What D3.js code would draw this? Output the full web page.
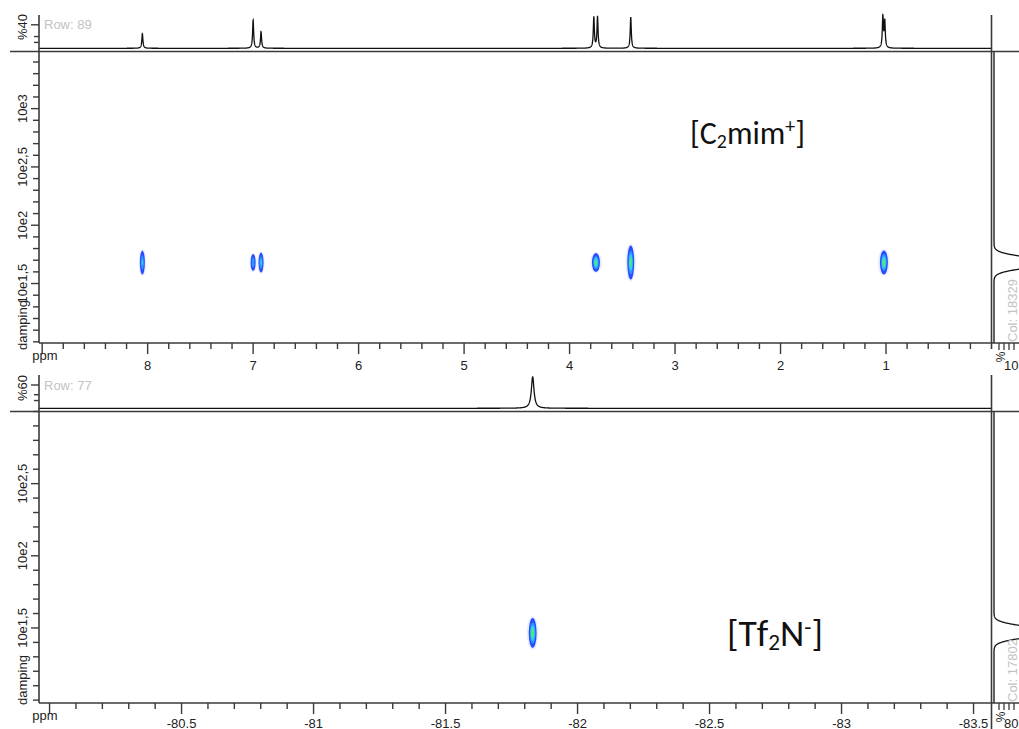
<!DOCTYPE html>
<html><head><meta charset="utf-8">
<script src="https://cdn.jsdelivr.net/npm/d3@7"></script>
<style>
body{margin:0;background:#fff;}
svg{display:block;font-family:"Liberation Sans",Arial,sans-serif;}
</style>
</head><body>
<svg id="c" width="1019" height="729"></svg>
<script>
// ================= DATA =================
// --- top panel : [C2mim+] (1H DOSY) ---
const topRowLabel = "Row: 89";
const topColLabel = "Col: 18329";
const topSpecAxisLabel = "%40";
const topProjAxisLabel = "10";
const topXMajorTicks = [9, 8, 7, 6, 5, 4, 3, 2, 1];
const topXTickLabels = ["", "8", "7", "6", "5", "4", "3", "2", "1"];
const topYMajorTicks = [3, 2.5, 2, 1.5];
const topYTickLabels = ["10e3", "10e2,5", "10e2", "10e1,5"];
const topSpecTicks = [40, 20, 10];
// 1D row spectrum (ppm, height %)
const topPeakPpm    = [8.05, 7.00, 6.925, 3.77, 3.735, 3.42, 1.03, 1.012];
const topPeakHeight = [25,   48,   28,    53,   53,    53,   53,   45];
// DOSY cross peaks
const topSpotPpm        = [8.05, 7.00, 6.925, 3.75, 3.42, 1.02];
const topSpotLogD       = [1.68, 1.68, 1.68,  1.68, 1.68, 1.68];
const topSpotSpreadPpm  = [0.024, 0.024, 0.024, 0.038, 0.033, 0.038];
const topSpotSpreadLogD = [0.103, 0.073, 0.086, 0.081, 0.146, 0.103];
const topSpotIntensity  = [0.55, 0.5, 0.6, 0.85, 0.85, 0.9];
// column projection (logD, height %, width)
const topProjLogD   = [1.68];
const topProjHeight = [300];
const topProjSigma  = [0.043];
const topIonLabel = ["[C", "2", "mim", "+", "]"];

// --- bottom panel : [Tf2N-] (19F DOSY) ---
const botRowLabel = "Row: 77";
const botColLabel = "Col: 17802";
const botSpecAxisLabel = "%60";
const botProjAxisLabel = "80";
const botXMajorTicks = [-80, -80.5, -81, -81.5, -82, -82.5, -83, -83.5];
const botXTickLabels = ["", "-80.5", "-81", "-81.5", "-82", "-82.5", "-83", "-83.5"];
const botYMajorTicks = [2.5, 2, 1.5];
const botYTickLabels = ["10e2,5", "10e2", "10e1,5"];
const botSpecTicks = [60, 35, 20];
const botPeakPpm    = [-81.83];
const botPeakHeight = [81];
const botSpotPpm        = [-81.83];
const botSpotLogD       = [1.465];
const botSpotSpreadPpm  = [0.015];
const botSpotSpreadLogD = [0.104];
const botSpotIntensity  = [0.9];
const botProjLogD   = [1.472];
const botProjHeight = [300];
const botProjSigma  = [0.035];
const botIonLabel = ["[Tf", "2", "N", "-", "]"];

const dampingLabel = "damping";
const ppmLabel = "ppm";

// ================= DRAWING =================
const svg = d3.select("#c");
const AX = "#3a3a3a", GREY = "#c3c3c3";
const spotLevels = [0.1, 0.3, 0.5, 0.7];
const spotColor = d3.scaleOrdinal(spotLevels, ["#2a4cff", "#2a96ff", "#34cdee", "#48ec74"]);

function drawPanel(p) {
  const g = svg.append("g");
  const x = d3.scaleLinear(p.xDomain, [p.left, p.right]);
  const y = d3.scaleLinear(p.yDomain, [p.bottom, p.top]);
  const ys = d3.scaleLinear([0, p.specTicks[0]], [p.specBase, p.specTopTick]);
  const xp = d3.scaleLinear([0, 100], [p.right + 2.5, p.right + 22.5]);

  // --- DOSY spots ---
  const sg = g.append("g");
  p.spotPpm.forEach((pp, i) => {
    const I = p.spotInt[i];
    const cx = x(pp), cy = y(p.spotLogD[i]);
    const rx0 = Math.abs(x(pp + p.spotSp[i]) - cx);
    const ry0 = Math.abs(y(p.spotLogD[i] + p.spotSd[i]) - cy);
    sg.append("ellipse").attr("cx", cx).attr("cy", cy)
      .attr("rx", rx0 * 1.5).attr("ry", ry0 * 1.12).attr("fill", "#e8eeff");
    spotLevels.filter(c => c < I).forEach(c => {
      const f = Math.sqrt(Math.log(I / c) / Math.log(I / spotLevels[0]));
      sg.append("ellipse").attr("cx", cx).attr("cy", cy)
        .attr("rx", Math.max(0.8, rx0 * f)).attr("ry", ry0 * f)
        .attr("fill", spotColor(c));
    });
  });

  // --- 1D row spectrum ---
  const pts = [];
  const lo = Math.min(...p.xDomain), hi = Math.max(...p.xDomain);
  const step = (hi - lo) / 12000;
  for (let v = lo; v <= hi; v += step) {
    let s = 0;
    p.peakPpm.forEach((c, k) => {
      const d = (v - c) / p.peakGamma;
      s += p.peakHeight[k] / (1 + d * d);
    });
    pts.push([v, s]);
  }
  g.append("path").datum(pts)
    .attr("d", d3.line().x(d => x(d[0])).y(d => ys(d[1])))
    .attr("fill", "none").attr("stroke", "#111").attr("stroke-width", 1.3);

  // --- column projection (right) ---
  const ppts = [];
  for (let v = p.yDomain[0]; v <= p.yDomain[1]; v += 0.001) {
    let s = 0;
    p.projLogD.forEach((c, k) => {
      const d = (v - c) / p.projSigma[k];
      s += p.projHeight[k] * Math.exp(-0.5 * d * d);
    });
    ppts.push([v, s]);
  }
  g.append("path").datum(ppts)
    .attr("d", d3.line().x(d => xp(d[1])).y(d => y(d[0])))
    .attr("fill", "none").attr("stroke", "#111").attr("stroke-width", 1.3);

  // --- frame lines ---
  const line = (x1, y1, x2, y2, w) => g.append("line").attr("x1", x1).attr("y1", y1)
    .attr("x2", x2).attr("y2", y2).attr("stroke", AX).attr("stroke-width", w || 1.6);
  line(10, p.top, 1019, p.top);                 // top border
  line(p.left, p.axisTop, p.left, p.bottom);    // left axis
  line(p.right, p.axisTop, p.right, p.rightEnd); // right border
  line(p.left, p.bottom, 1019, p.bottom);       // bottom axis

  // --- x ticks ---
  const majors = p.xMajor;
  const minors = [];
  const mstep = p.minorStep;
  const start = Math.ceil(lo / mstep - 1e-6), end = Math.floor(hi / mstep + 1e-6);
  for (let k = start; k <= end; k++) {
    const v = +(k * mstep).toFixed(3);
    if (!majors.some(m => Math.abs(m - v) < 1e-6)) minors.push(v);
  }
  minors.filter(v => x(v) > p.left + 2 && x(v) < p.right - 2).forEach(v => line(x(v), p.bottom, x(v), p.bottom + 6, 1.4));
  majors.forEach((v, i) => {
    line(x(v), p.bottom, x(v), p.bottom + 11, 1.4);
    if (p.xLabels[i]) g.append("text").attr("x", x(v)).attr("y", p.bottom + p.labelOff)
      .attr("text-anchor", "middle").attr("font-size", 13).attr("fill", "#222").text(p.xLabels[i]);
  });
  g.append("text").attr("x", 45).attr("y", p.bottom + 17).attr("text-anchor", "middle")
    .attr("font-size", 13).attr("fill", "#222").text(ppmLabel);

  // --- y ticks ---
  const ylo = Math.ceil(p.yDomain[0] * 10 - 1e-6), yhi = Math.floor(p.yDomain[1] * 10 + 1e-6);
  for (let k = ylo; k <= yhi; k++) {
    const v = k / 10;
    const isMaj = p.yMajor.some(m => Math.abs(m - v) < 1e-6);
    line(p.left - (isMaj ? 8 : 6), y(v), p.left, y(v), 1.4);
  }
  p.yMajor.forEach((v, i) => {
    g.append("text").attr("transform", `translate(26.5,${y(v)}) rotate(-90)`)
      .attr("text-anchor", "middle").attr("font-size", 13).attr("fill", "#222").text(p.yLabels[i]);
  });
  g.append("text").attr("transform", `translate(26.5,${p.dampingY}) rotate(-90)`)
    .attr("text-anchor", "middle").attr("font-size", 13).attr("fill", "#222").text(dampingLabel);

  // --- 1D spectrum axis ---
  p.specTicks.forEach((v, i) => line(p.left - (i === 0 ? 8 : 5), ys(v), p.left, ys(v), 1.4));
  g.append("text").attr("transform", `translate(26.5,${p.specLabelY}) rotate(-90)`)
    .attr("text-anchor", "middle").attr("font-size", 13).attr("fill", "#222").text(p.specLabel);
  g.append("text").attr("x", 44).attr("y", p.specTopTick + 4.5)
    .attr("font-size", 13).attr("fill", GREY).text(p.rowLabel);

  // --- projection axis (bottom right) ---
  [25, 50, 75, 100].forEach(v => line(xp(v), p.bottom, xp(v), p.bottom + 7, 1.3));
  g.append("text").attr("transform", `translate(1005,${p.bottom + 14}) rotate(-90)`)
    .attr("text-anchor", "middle").attr("font-size", 12).attr("fill", "#222").text("%");
  g.append("text").attr("x", 1004).attr("y", p.bottom + p.labelOff)
    .attr("font-size", 13).attr("fill", "#222").text(p.projLabel);
  g.append("text").attr("transform", `translate(1016.5,${p.bottom - 1}) rotate(-90)`)
    .attr("font-size", 13).attr("fill", GREY).text(p.colLabel);

  // --- ion label ---
  const t = g.append("text").attr("x", p.ionX).attr("y", p.ionY)
    .attr("font-family", "Carlito, Calibri, Lato, sans-serif").attr("font-size", 27).attr("fill", "#111");
  const parts = p.ion;
  t.append("tspan").text(parts[0]);
  t.append("tspan").attr("font-size", "0.62em").attr("dy", 4).text(parts[1]);
  t.append("tspan").attr("dy", -4).text(parts[2]);
  t.append("tspan").attr("font-size", "0.62em").attr("dy", -11).text(parts[3]);
  t.append("tspan").attr("dy", 11).text(parts[4]);
  const w = t.node().getComputedTextLength();
  t.attr("font-size", 27 * p.ionW / w);
}

drawPanel({
  xDomain: [9.03, 0.0], yDomain: [0.99, 3.49],
  left: 39, right: 991.5, top: 51.5, bottom: 343, axisTop: 15, rightEnd: 349, labelOff: 26.5,
  specBase: 48.3, specTopTick: 24.8, specTicks: topSpecTicks, specLabel: topSpecAxisLabel, specLabelY: 27,
  rowLabel: topRowLabel, colLabel: topColLabel, projLabel: topProjAxisLabel,
  xMajor: topXMajorTicks, xLabels: topXTickLabels, minorStep: 0.2,
  yMajor: topYMajorTicks, yLabels: topYTickLabels, dampingY: 325,
  peakPpm: topPeakPpm, peakHeight: topPeakHeight, peakGamma: 0.006,
  spotPpm: topSpotPpm, spotLogD: topSpotLogD, spotSp: topSpotSpreadPpm, spotSd: topSpotSpreadLogD, spotInt: topSpotIntensity,
  projLogD: topProjLogD, projHeight: topProjHeight, projSigma: topProjSigma,
  ion: topIonLabel, ionX: 690, ionY: 144, ionW: 115
});

drawPanel({
  xDomain: [-79.96, -83.568], yDomain: [0.98, 3.0],
  left: 39, right: 991.5, top: 411.5, bottom: 703, axisTop: 375, rightEnd: 729, labelOff: 24.5,
  specBase: 408.3, specTopTick: 385, specTicks: botSpecTicks, specLabel: botSpecAxisLabel, specLabelY: 388,
  rowLabel: botRowLabel, colLabel: botColLabel, projLabel: botProjAxisLabel,
  xMajor: botXMajorTicks, xLabels: botXTickLabels, minorStep: 0.1,
  yMajor: botYMajorTicks, yLabels: botYTickLabels, dampingY: 680,
  peakPpm: botPeakPpm, peakHeight: botPeakHeight, peakGamma: 0.006,
  spotPpm: botSpotPpm, spotLogD: botSpotLogD, spotSp: botSpotSpreadPpm, spotSd: botSpotSpreadLogD, spotInt: botSpotIntensity,
  projLogD: botProjLogD, projHeight: botProjHeight, projSigma: botProjSigma,
  ion: botIonLabel, ionX: 727, ionY: 646, ionW: 96
});
</script>
</body></html>
